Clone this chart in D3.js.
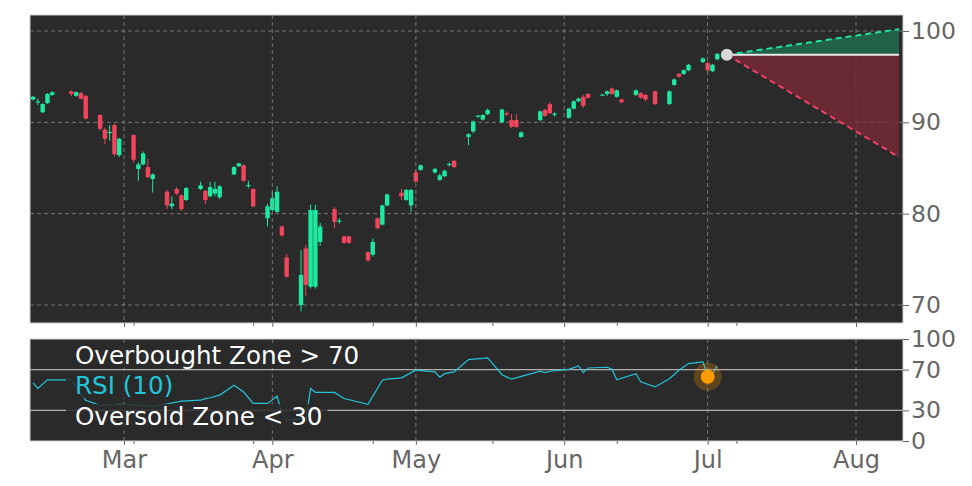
<!DOCTYPE html><html><head><meta charset="utf-8">
<script src="https://cdn.jsdelivr.net/npm/d3@7"></script>
<style>body{margin:0;background:#fff}svg{display:block}text{font-family:"DejaVu Sans"}</style></head><body>
<svg id="c" width="972" height="486"></svg>
<script>
const dates=["2025-02-10","2025-02-11","2025-02-12","2025-02-13","2025-02-14","2025-02-18","2025-02-19","2025-02-20","2025-02-21","2025-02-24","2025-02-25","2025-02-26","2025-02-27","2025-02-28","2025-03-03","2025-03-04","2025-03-05","2025-03-06","2025-03-07","2025-03-10","2025-03-11","2025-03-12","2025-03-13","2025-03-14","2025-03-17","2025-03-18","2025-03-19","2025-03-20","2025-03-21","2025-03-24","2025-03-25","2025-03-26","2025-03-27","2025-03-28","2025-03-31","2025-04-01","2025-04-02","2025-04-03","2025-04-04","2025-04-07","2025-04-08","2025-04-09","2025-04-10","2025-04-11","2025-04-14","2025-04-15","2025-04-16","2025-04-17","2025-04-21","2025-04-22","2025-04-23","2025-04-24","2025-04-25","2025-04-28","2025-04-29","2025-04-30","2025-05-01","2025-05-02","2025-05-05","2025-05-06","2025-05-07","2025-05-08","2025-05-09","2025-05-12","2025-05-13","2025-05-14","2025-05-15","2025-05-16","2025-05-19","2025-05-20","2025-05-21","2025-05-22","2025-05-23","2025-05-27","2025-05-28","2025-05-29","2025-05-30","2025-06-02","2025-06-03","2025-06-04","2025-06-05","2025-06-06","2025-06-09","2025-06-10","2025-06-11","2025-06-12","2025-06-13","2025-06-16","2025-06-17","2025-06-18","2025-06-20","2025-06-23","2025-06-24","2025-06-25","2025-06-26","2025-06-27","2025-06-30","2025-07-01","2025-07-02","2025-07-03"];
const opens=[92.5,92.2,91.1,92.1,93.0,93.4,92.9,93.2,92.9,90.8,89.2,88.9,89.7,86.4,88.6,84.9,85.4,85.1,83.8,82.4,80.8,82.7,82.0,81.5,82.7,82.5,81.9,82.2,81.8,84.3,85.2,85.3,83.1,82.7,79.5,80.4,80.2,78.6,75.2,70.0,76.2,72.0,72.0,76.9,80.5,79.2,77.5,77.5,75.8,75.5,79.5,78.8,80.9,82.3,81.5,80.9,84.5,84.8,84.5,83.7,84.1,85.4,85.8,88.4,89.0,90.7,90.3,90.9,90.0,91.0,90.25,90.25,88.4,90.25,91.35,92.0,90.9,90.5,91.5,92.3,92.8,93.1,93.0,93.1,93.7,92.8,92.5,93.0,93.2,93.0,93.4,92.0,94.1,95.3,95.3,95.7,96.6,96.5,95.6,96.9];
const closes=[92.8,92.3,92.0,93.1,93.3,93.1,93.3,92.6,90.4,89.3,88.2,88.95,86.5,88.2,85.9,85.4,86.6,84.0,84.3,80.9,81.1,82.2,80.5,82.8,83.1,81.5,82.9,82.7,83.0,85.1,85.5,83.6,83.15,80.8,80.8,81.7,82.4,77.6,73.1,73.3,72.2,80.4,80.4,78.6,79.1,79.25,76.8,76.8,74.9,76.9,78.4,80.9,82.1,81.9,82.6,82.6,83.5,85.3,84.9,84.2,84.7,85.45,85.1,88.7,90.1,90.75,90.8,91.35,91.4,90.9,89.5,89.5,88.9,91.2,90.7,91.0,90.95,91.5,92.3,92.6,91.8,92.7,93.05,93.4,93.1,93.5,92.2,93.5,92.7,92.5,92.0,93.4,94.7,95.0,95.7,96.3,97.0,95.7,96.3,97.5];
const highs=[92.9,92.6,92.1,93.2,93.4,93.5,93.4,93.3,93.0,90.9,89.4,89.7,89.9,88.3,88.7,85.6,86.8,86.0,84.4,82.6,81.9,82.9,82.1,82.9,83.5,82.6,83.5,83.5,83.1,85.2,85.6,85.4,83.6,82.8,81.1,82.4,83.0,78.7,75.6,76.0,76.6,81.0,81.0,79.0,80.7,79.5,77.6,77.6,75.9,77.3,79.6,81.0,82.2,82.7,82.7,82.7,84.8,85.4,85.0,84.4,84.8,85.6,85.8,88.8,90.2,90.8,90.9,91.5,91.5,91.2,90.9,90.9,89.0,91.3,91.5,92.2,91.1,91.6,92.4,92.7,93.0,93.2,93.1,93.5,93.8,93.6,92.6,93.6,93.3,93.1,93.5,93.5,94.8,95.4,95.8,96.4,97.1,96.6,96.4,97.6];
const lows=[92.4,91.9,91.0,92.0,92.9,92.9,92.8,92.5,90.3,89.1,87.6,88.0,86.3,86.2,85.6,83.6,85.3,83.9,82.3,80.5,80.5,82.0,80.3,81.4,82.6,81.1,81.8,81.9,81.6,84.2,85.1,83.5,82.8,80.7,78.6,80.3,80.1,77.5,73.0,69.3,71.0,71.8,71.8,76.5,78.4,78.9,76.7,76.7,74.7,75.3,78.3,78.7,80.8,81.5,81.4,80.2,83.4,84.7,84.4,83.6,84.0,85.2,85.0,87.5,88.8,90.5,90.2,90.8,89.9,90.7,89.4,89.4,88.3,90.1,90.6,90.9,90.6,90.4,91.4,92.2,91.6,92.6,92.9,92.9,93.0,92.7,92.1,92.9,92.6,92.3,91.9,91.9,94.0,94.9,95.2,95.6,96.5,95.5,95.5,96.8];
const rsiDates=["2025-02-10","2025-02-11","2025-02-13","2025-02-18","2025-02-21","2025-02-24","2025-02-28","2025-03-05","2025-03-07","2025-03-13","2025-03-17","2025-03-18","2025-03-19","2025-03-21","2025-03-24","2025-03-26","2025-03-28","2025-03-31","2025-04-02","2025-04-03","2025-04-04","2025-04-07","2025-04-08","2025-04-09","2025-04-10","2025-04-14","2025-04-16","2025-04-21","2025-04-24","2025-04-25","2025-04-28","2025-05-01","2025-05-05","2025-05-06","2025-05-07","2025-05-09","2025-05-12","2025-05-16","2025-05-19","2025-05-21","2025-05-27","2025-05-28","2025-05-29","2025-06-02","2025-06-04","2025-06-05","2025-06-06","2025-06-10","2025-06-11","2025-06-12","2025-06-16","2025-06-17","2025-06-20","2025-06-23","2025-06-25","2025-06-27","2025-06-30","2025-07-01","2025-07-02","2025-07-03"];
const rsiValues=[57,51.5,60,60,40,35,36,35,33.6,39,40,41.5,42.4,45,54.7,48,36.8,36.8,44,27,20,22,20,51.5,47.6,47.6,41.7,35.9,59.6,60.6,61.9,69.4,67.7,62.5,66,67.7,79.8,81.4,65,60.6,68.4,67,68.4,70.3,73.6,67,71.6,72.3,70.3,60,66,58,53,61,69.4,75.9,77.5,65,66,73.6];
const priceTicks=[70,80,90,100];
const rsiTicks=[0,30,70,100];
const monthTicks=["2025-03-01","2025-04-01","2025-05-01","2025-06-01","2025-07-01","2025-08-01"];
const minorTicks=["2025-03-03","2025-03-28","2025-04-22","2025-05-17","2025-06-12","2025-07-07"];
const forecastDates=["2025-07-05","2025-08-10"];
const forecastLast=97.4, forecastHigh=[97.4,100.2], forecastLow=[97.4,86.2];
const rsiMarkerDate="2025-07-01", rsiMarkerValue=63;

const P=d3.timeParse("%Y-%m-%d");
const svg=d3.select("#c");
const L=30,R=903,T1=15,B1=323,T2=339,B2=441;
const xa=d3.scaleTime().domain([P("2025-03-01"),P("2025-08-01")]).range([124,856]);
const x=xa.copy().domain([xa.invert(L),xa.invert(R)]).range([L,R]);
const y=d3.scaleLinear().domain([70,100]).range([305,31]);
const yr=d3.scaleLinear().domain([0,100]).range([B2,T2]);
const bg="#2a2a2a",grid="#8a8a8a",up="#1de9a0",dn="#f0455c";
[[T1,B1],[T2,B2]].forEach(([a,b])=>svg.append("rect").attr("x",L).attr("y",a).attr("width",R-L).attr("height",b-a).attr("fill",bg).attr("stroke","#d0d0d0").attr("stroke-width",1));
const g1=svg.append("g");
priceTicks.forEach(v=>g1.append("line").attr("x1",L).attr("x2",R).attr("y1",y(v)).attr("y2",y(v)).attr("stroke",grid).attr("stroke-dasharray","4,3").attr("stroke-width",0.8));
monthTicks.forEach(d=>{[[T1,B1],[T2,B2]].forEach(([a,b])=>svg.append("line").attr("x1",x(P(d))).attr("x2",x(P(d))).attr("y1",a).attr("y2",b).attr("stroke",grid).attr("stroke-dasharray","4,3").attr("stroke-width",0.8));});
const fx=forecastDates.map(d=>x(P(d)));
svg.append("path").attr("d",`M${fx[0]},${y(forecastHigh[0])}L${fx[1]},${y(forecastHigh[1])}L${fx[1]},${y(forecastLast)}Z`).attr("fill","#1f6b4c").attr("opacity",0.85);
svg.append("path").attr("d",`M${fx[0]},${y(forecastLow[0])}L${fx[1]},${y(forecastLow[1])}L${fx[1]},${y(forecastLast)}Z`).attr("fill","#7a2a36").attr("opacity",0.8);
svg.append("line").attr("x1",fx[0]).attr("x2",fx[1]).attr("y1",y(forecastLast)).attr("y2",y(forecastLast)).attr("stroke","#e8e8e8").attr("stroke-width",2);
svg.append("line").attr("x1",fx[0]).attr("x2",fx[1]).attr("y1",y(forecastHigh[0])).attr("y2",y(forecastHigh[1])).attr("stroke","#22e39a").attr("stroke-width",2).attr("stroke-dasharray","6,4");
svg.append("line").attr("x1",fx[0]).attr("x2",fx[1]).attr("y1",y(forecastLow[0])).attr("y2",y(forecastLow[1])).attr("stroke","#f0406a").attr("stroke-width",2).attr("stroke-dasharray","6,4");
dates.forEach((d,i)=>{const cx=x(P(d)),o=opens[i],c=closes[i],col=c>=o?up:dn;
 g1.append("line").attr("x1",cx).attr("x2",cx).attr("y1",y(highs[i])).attr("y2",y(lows[i])).attr("stroke",col).attr("stroke-width",1);
 const t=y(Math.max(o,c)),h=Math.max(1.2,y(Math.min(o,c))-t);
 g1.append("rect").attr("x",cx-2.2).attr("width",4.4).attr("y",t).attr("height",h).attr("fill",col);});
svg.append("circle").attr("cx",fx[0]).attr("cy",y(forecastLast)).attr("r",6).attr("fill","#d8d8d8");
[30,70].forEach(v=>svg.append("line").attr("x1",L).attr("x2",R).attr("y1",yr(v)).attr("y2",yr(v)).attr("stroke","#b0b0b0").attr("stroke-width",1.2));
svg.append("path").datum(rsiDates.map((d,i)=>[x(P(d)),yr(rsiValues[i])])).attr("d",d3.line()).attr("fill","none").attr("stroke","#22c5d8").attr("stroke-width",1.2);
const mx=x(P(rsiMarkerDate)),my=yr(rsiMarkerValue);
svg.append("circle").attr("cx",mx).attr("cy",my).attr("r",14).attr("fill","#ff9900").attr("opacity",0.25);
svg.append("circle").attr("cx",mx).attr("cy",my).attr("r",7).attr("fill","#ff9a00");
const labels=[["Overbought Zone > 70","#ffffff",356],["RSI (10)","#22c5d8",386],["Oversold Zone < 30","#ffffff",417]];
labels.forEach(([t,c,yy])=>{const tx=svg.append("text").attr("x",75).attr("y",yy+8).attr("font-size",24.6).attr("font-family","DejaVu Sans").attr("fill",c).text(t);
 const bb=tx.node().getBBox();svg.insert("rect",()=>tx.node()).attr("x",bb.x-9).attr("y",bb.y+2).attr("width",bb.width+14).attr("height",bb.height-4).attr("fill","#2a2a2a").attr("opacity",0.85);});
const ax1=svg.append("g").attr("transform",`translate(${R},0)`).call(d3.axisRight(y).tickValues(priceTicks).tickSize(6));
const ax2=svg.append("g").attr("transform",`translate(${R},0)`).call(d3.axisRight(yr).tickValues(rsiTicks).tickSize(6));
[ax1,ax2].forEach(a=>{a.attr("font-family","DejaVu Sans");a.select(".domain").remove();a.selectAll("line").attr("stroke","#666");a.selectAll("text").attr("fill","#666").attr("font-size",23.5).attr("x",8);});
[B1,B2].forEach((b,k)=>{const a=svg.append("g").attr("transform",`translate(0,${b})`).attr("font-family","DejaVu Sans").call(d3.axisBottom(x).tickValues(monthTicks.map(P)).tickSize(4).tickFormat(k?d3.timeFormat("%b"):""));
 a.select(".domain").remove();a.selectAll("line").attr("stroke","#666");a.selectAll("text").attr("fill","#666").attr("font-size",24).attr("dy","0.85em");
 const m=svg.append("g").attr("transform",`translate(0,${b})`).call(d3.axisBottom(x).tickValues(minorTicks.map(P)).tickSize(3).tickFormat(""));m.select(".domain").remove();m.selectAll("line").attr("stroke","#666");});
</script></body></html>
